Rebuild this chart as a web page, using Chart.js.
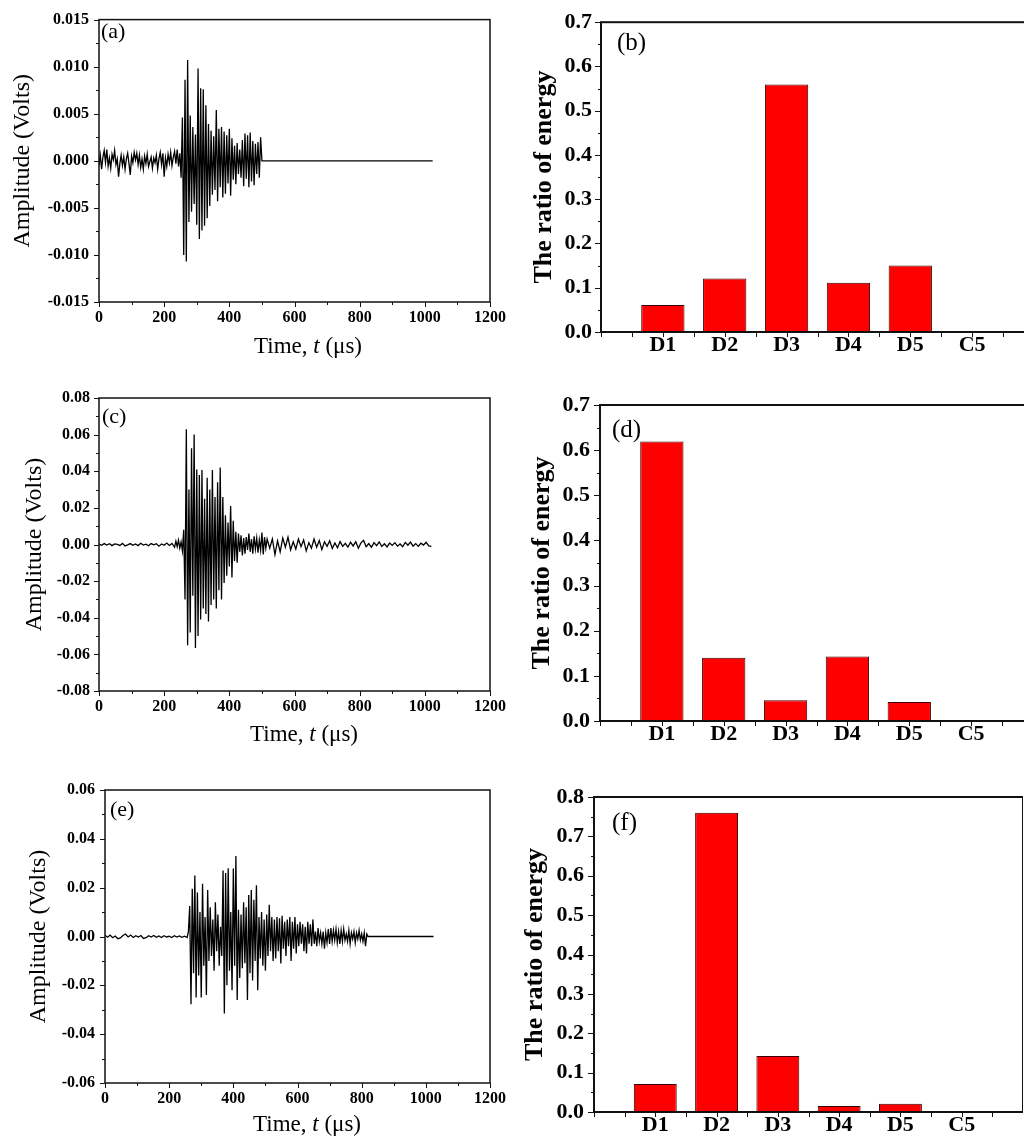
<!DOCTYPE html>
<html>
<head>
<meta charset="utf-8">
<script src="https://cdn.jsdelivr.net/npm/chart.js@4.4.0/dist/chart.umd.min.js"></script>
<style>
  html, body { margin: 0; padding: 0; background: #fff; width: 1024px; height: 1144px; overflow: hidden; position: relative; }
  canvas { position: absolute; }
</style>
</head>
<body>
<canvas id="pa" width="512" height="370" style="left:0;top:0"></canvas>
<canvas id="pb" width="522" height="370" style="left:512px;top:0"></canvas>
<canvas id="pc" width="512" height="390" style="left:0;top:370px"></canvas>
<canvas id="pd" width="521" height="390" style="left:512px;top:370px"></canvas>
<canvas id="pe" width="512" height="384" style="left:0;top:760px"></canvas>
<canvas id="pf" width="511" height="384" style="left:512px;top:760px"></canvas>
<script>
'use strict';

// ─── Data ────────────────────────────────────────────────────────
// waveforms are in mV, sampled at a fixed step from a start time (µs)

// (a) pre-trigger noise, 0..248 µs every 4 µs
const aHead = [
  -0.5, 0.6, -0.9, 0.4, 1.1, -0.2, 1.2, -0.6, 0.3, -0.8,
  0.7, 0.1, 1.1, -0.4, 0.2, -1.7, -0.3, 0.6, -0.5, 0.4,
  -0.9, 0.2, 0.8, -0.3, -1.5, 0.5, -0.2, 0.9, 0.1, 0.8,
  -0.4, 0.6, -0.7, 0.2, -0.9, 0.5, -0.3, 0.7, -0.6, -0.1,
  0.4, -0.8, 0.3, -0.2, 0.6, -0.9, 0.2, 0.9, -0.4, 0.8,
  -1.7, 0.3, -0.6, 0.7, -0.2, 0.9, -0.5, 0.4, 1.0, -0.3,
  1.2, -0.6, 0.8
];
// (a) burst, 252..500 µs every 4 µs
const aBurst = [
  -1.8, 4.6, -10.0, 8.6, -10.7, 10.7, -6.5, 4.8, -5.4, 3.6,
  -4.6, 2.8, -6.8, 9.8, -8.3, 7.7, -7.4, 7.6, -6.9, 5.9,
  -6.1, 3.9, -4.8, 3.2, -3.6, 2.6, -3.1, 5.4, -4.3, 3.4,
  -2.8, 3.6, -3.9, 3.1, -3.5, 2.7, -2.4, 3.4, -3.7, 2.4,
  -2.0, 1.6, -2.5, 1.9, -1.4, 1.2, -1.8, 2.2, -2.7, 2.9,
  -1.9, 2.7, -2.8, 3.0, -2.2, 2.1, -2.6, 1.8, -1.4, 2.0,
  -1.8, 2.5, 0.0
];
const aFlatEnd = 1024;

// (c) 0..224 µs every 8 µs
const cHead = [
  0.2, -0.4, 0.5, -0.3, 0.4, -0.6, 0.3, 0.1, -0.5, 0.6,
  -0.8, -0.2, 0.5, -0.4, 0.3, -0.6, 0.7, -0.3, 0.2, -0.7,
  0.5, -0.2, 0.4, -0.9, 0.3, -0.4, 0.8, -0.5, 0.6
];
// (c) 232..516 µs every 4 µs
const cBurst = [
  -1.5, 1.8, -1.2, 2.4, -2.0, 1.4, -3.5, 8.0, -30, 63,
  -55, 30, -48, 52.6, -28, 60, -56.5, 41, -50, 38,
  -41, 40.7, -35, 25, -38, 36.5, -42, 30, -33, 40.7,
  -30, 26, -35, 34, -25, 42, -30, 26, -21, 16,
  -17, 12, -12, 21, -18, 13, -9, 7, -10, 6,
  -4, 5, -6, 3.5, -5, 4, -3, 6, -4, 3,
  -5, 4.5, -2.5, 3.5, -4.5, 2.5, -3, 6.5, -5.5, 4,
  -2, 3
];
// (c) 524..1020 µs every 8 µs
const cTail = [
  -2, 3, -5.5, 2, -4, 3.5, -1.5, 4, -3, 1.5,
  -2.5, 3, -1.2, 2.5, -3.5, 1.0, -2, 3, -1.5, 2.2,
  -2.8, 1.5, -1.0, 2.0, -2.2, 0.8, -1.8, 1.6, -1.0, 0.6,
  -1.4, 1.2, -0.8, 1.5, -2.0, 0.9, 2.2, -1.2, 0.5, -1.5,
  1.0, -0.6, 1.4, -1.1, 0.4, -1.3, 0.8, -0.5, 1.0, -0.9,
  0.3, -1.2, 1.1, -0.4, 1.3, -0.9, 0.5, -1.0, 0.7, -0.3,
  1.2, -0.8, -1.0
];

// (e) 0..256 µs every 8 µs
const eHead = [
  0.5, -0.3, 0.6, -0.5, 0.2, -0.9, -0.6, 0.4, 1.0, -0.2,
  0.6, -0.4, 0.3, -0.2, 0.4, -0.8, -0.5, 0.3, -0.2, 0.4,
  -0.3, 0.2, -0.4, 0.3, -0.2, 0.1, -0.4, 0.3, -0.2, 0.2,
  -0.3, 0.1, -0.4
];
// (e) 260..820 µs every 4 µs
const eBurst = [
  2, 12.5, -27.7, 19.6, -15, 25, -25, 18, -16, 10,
  -25, 21.6, -12, 8, -24, 19, -10, 12, -8, 7,
  -14, 14, -6, 9, -12, 4, -8, 27, -31.5, 26,
  -20, 28, -14, 10, -22, 27.8, -12, 33, -26, 11,
  -17, 9, -13, 14, -11, 12, -26, 17, -15, 19,
  -18, 15, -10, 21, -22, 8, -9, 10, -12, 7,
  -14, 9, -8, 13, -6, 8, -10, 7, -9, 8,
  -6, 7.5, -11, 8.5, -5, 6, -8, 7, -4, 8,
  -10, 6, -5, 8, -7, 5, -4, 6, -3, 5,
  -6, 4, -7, 6, -3, 5, -4, 7, -3, 2,
  -4, 3.5, -2, 1.5, -3, 2, -5, 1.5, -2.5, 3,
  -3, 3.5, -2, 2.5, -1.5, 3, -2.5, 2, -3, 2.5,
  -2, 3, -1.5, 1, -2, 2.5, -3, 1.5, -1, 2,
  -2.5, 1.5, -1, 2.5, -1.5, 1, -2, 1.5, -4, 1,
  0
];
const eFlatEnd = 1024;

// wavelet energy ratios
const barCats = ['D1', 'D2', 'D3', 'D4', 'D5', 'C5'];
const ratioB = [0.061, 0.121, 0.559, 0.111, 0.150, 0];
const ratioD = [0.619, 0.140, 0.046, 0.143, 0.042, 0];
const ratioF = [0.071, 0.760, 0.142, 0.015, 0.021, 0];

// axis ranges / ticks
const timeRange = [0, 1200], timeStep = 200;
const ampRangeA = [-0.015, 0.015], ampStepA = 0.005;
const ampRangeC = [-0.08, 0.08], ampStepC = 0.02;
const ampRangeE = [-0.06, 0.06], ampStepE = 0.02;

// ─── Helpers ──────────────────────────────────────────────────────
function series(t0, dt, mv) {
  return mv.map((v, i) => ({ x: t0 + i * dt, y: v / 1000 }));
}

const SERIF = "'Liberation Serif', 'Times New Roman', serif";
Chart.defaults.font.family = SERIF;
Chart.defaults.color = '#000';

// box round the plot + outward major/minor ticks (Origin style)
const frameTicks = {
  id: 'frameTicks',
  afterDraw(chart, args, o) {
    const { ctx, chartArea: a, scales: { x, y } } = chart;
    ctx.save();
    ctx.strokeStyle = '#111';
    ctx.lineWidth = o.frameWidth;
    ctx.strokeRect(a.left, a.top, a.right - a.left, a.bottom - a.top);
    ctx.lineWidth = 1;
    ctx.beginPath();
    const ny = Math.round((y.max - y.min) / o.yMinor);
    for (let i = 0; i <= ny; i++) {
      const py = Math.round(y.getPixelForValue(y.min + i * o.yMinor)) + 0.5;
      const len = i % o.yRatio === 0 ? o.yMajorLen : o.yMinorLen;
      ctx.moveTo(a.left, py); ctx.lineTo(a.left - len, py);
    }
    const nx = Math.round((x.max - x.min) / o.xMinor);
    for (let i = 0; i <= nx; i++) {
      const px = Math.round(x.getPixelForValue(x.min + i * o.xMinor)) + 0.5;
      const len = i % o.xRatio === 0 ? o.xMajorLen : o.xMinorLen;
      ctx.moveTo(px, a.bottom); ctx.lineTo(px, a.bottom + len);
    }
    ctx.stroke();
    ctx.restore();
  }
};

// panel letter and the mixed-style time title
const annot = {
  id: 'annot',
  afterDraw(chart, args, o) {
    const { ctx } = chart;
    ctx.save();
    ctx.fillStyle = '#000';
    ctx.textBaseline = 'middle';
    ctx.textAlign = 'left';
    if (o.label) {
      ctx.font = `${o.label.size}px ${SERIF}`;
      ctx.fillText(o.label.text, o.label.x, o.label.y);
    }
    if (o.xTitle) {
      const parts = [['Time, ', ''], ['t', 'italic '], [' (μs)', '']];
      let w = 0;
      parts.forEach(p => { ctx.font = `${p[1]}${o.xTitle.size}px ${SERIF}`; w += ctx.measureText(p[0]).width; });
      let cx = o.xTitle.x - w / 2;
      parts.forEach(p => {
        ctx.font = `${p[1]}${o.xTitle.size}px ${SERIF}`;
        ctx.fillText(p[0], cx, o.xTitle.y);
        cx += ctx.measureText(p[0]).width;
      });
    }
    ctx.restore();
  }
};

function waveChart(id, data, c) {
  return new Chart(document.getElementById(id), {
    type: 'line',
    data: { datasets: [{ data, borderColor: '#000', borderWidth: 1.3, pointRadius: 0, tension: 0, fill: false }] },
    options: {
      responsive: false, animation: false, events: [],
      layout: { padding: { top: c.top, right: c.right, left: 0, bottom: 0 } },
      plugins: {
        legend: { display: false }, tooltip: { enabled: false },
        frameTicks: { frameWidth: 1.5, yMinor: c.yStep / 2, yRatio: 2, xMinor: timeStep / 2, xRatio: 2,
          yMajorLen: 5, yMinorLen: 3, xMajorLen: 5, xMinorLen: 3 },
        annot: { label: c.label, xTitle: c.xTitle },
      },
      scales: {
        x: {
          type: 'linear', min: timeRange[0], max: timeRange[1],
          grid: { display: false, drawTicks: false }, border: { display: false },
          ticks: { stepSize: timeStep, autoSkip: false, maxRotation: 0, padding: 6,
            font: { size: 16, weight: 'bold' }, callback: v => String(v) },
          afterFit(s) { s.height = c.xH; },
        },
        y: {
          min: c.range[0], max: c.range[1],
          grid: { display: false, drawTicks: false }, border: { display: false },
          ticks: { stepSize: c.yStep, autoSkip: false, padding: c.yTickPad,
            font: { size: 16, weight: 'bold' },
            callback: v => (Math.abs(v) < 1e-12 ? 0 : v).toFixed(c.dec) },
          title: { display: true, text: 'Amplitude (Volts)', font: { size: 24 }, padding: { top: c.yTitlePad, bottom: 0 } },
          afterFit(s) { s.width = c.yW; },
        },
      },
    },
    plugins: [frameTicks, annot],
  });
}

function barChart(id, ratios, c) {
  return new Chart(document.getElementById(id), {
    type: 'bar',
    data: {
      datasets: [{
        data: barCats.map((k, i) => ({ x: i + 1, y: ratios[i] })),
        backgroundColor: '#ff0000', borderColor: '#3a0000', borderWidth: 1,
        barPercentage: 0.7, categoryPercentage: 1,
      }]
    },
    options: {
      responsive: false, animation: false, events: [],
      layout: { padding: { top: c.top, right: 0, left: 0, bottom: 0 } },
      plugins: {
        legend: { display: false }, tooltip: { enabled: false },
        frameTicks: { frameWidth: 2, yMinor: 0.05, yRatio: 2, xMinor: 0.5, xRatio: 1,
          yMajorLen: 6, yMinorLen: 3, xMajorLen: 5, xMinorLen: 5 },
        annot: { label: c.label },
      },
      scales: {
        x: {
          type: 'linear', min: 0, max: barCats.length + 1, offset: false,
          grid: { display: false, drawTicks: false }, border: { display: false },
          ticks: { stepSize: 1, autoSkip: false, maxRotation: 0, padding: 0,
            font: { size: 22, weight: 'bold' }, callback: v => barCats[v - 1] || '' },
          afterFit(s) { s.height = c.xH; },
        },
        y: {
          min: 0, max: c.ymax,
          grid: { display: false, drawTicks: false }, border: { display: false },
          ticks: { stepSize: 0.1, autoSkip: false, padding: c.yTickPad,
            font: { size: 22, weight: 'bold' }, callback: v => v.toFixed(1) },
          title: { display: true, text: 'The ratio of energy', font: { size: 26, weight: 'bold' },
            padding: { top: c.yTitlePad, bottom: 0 } },
          afterFit(s) { s.width = c.yW; },
        },
      },
    },
    plugins: [frameTicks, annot],
  });
}

// ─── Panels ───────────────────────────────────────────────────────
waveChart('pa', [...series(0, 4, aHead), ...series(252, 4, aBurst), { x: aFlatEnd, y: 0 }], {
  range: ampRangeA, yStep: ampStepA, dec: 3, top: 13, right: 19, yW: 99, xH: 68,
  yTickPad: 10, yTitlePad: 8,
  label: { text: '(a)', x: 101, y: 32, size: 22 }, xTitle: { x: 308, y: 347, size: 23 },
});
waveChart('pc', [...series(0, 8, cHead), ...series(232, 4, cBurst), ...series(524, 8, cTail)], {
  range: ampRangeC, yStep: ampStepC, dec: 2, top: 28, right: 21, yW: 99, xH: 69,
  yTickPad: 9, yTitlePad: 20,
  label: { text: '(c)', x: 102, y: 47, size: 22 }, xTitle: { x: 304, y: 365, size: 23 },
});
waveChart('pe', [...series(0, 8, eHead), ...series(260, 4, eBurst), { x: eFlatEnd, y: 0 }], {
  range: ampRangeE, yStep: ampStepE, dec: 2, top: 30, right: 13, yW: 105, xH: 61,
  yTickPad: 10, yTitlePad: 24,
  label: { text: '(e)', x: 110, y: 50, size: 22 }, xTitle: { x: 307, y: 365, size: 23 },
});

barChart('pb', ratioB, { ymax: 0.7, top: 17, yW: 89, xH: 38, yTickPad: 9, yTitlePad: 17,
  label: { text: '(b)', x: 105, y: 43, size: 25 } });
barChart('pd', ratioD, { ymax: 0.7, top: 35, yW: 88, xH: 39, yTickPad: 10, yTitlePad: 15,
  label: { text: '(d)', x: 100, y: 60, size: 25 } });
barChart('pf', ratioF, { ymax: 0.8, top: 37, yW: 82, xH: 32, yTickPad: 10, yTitlePad: 8,
  label: { text: '(f)', x: 100, y: 63, size: 25 } });
</script>
</body>
</html>
